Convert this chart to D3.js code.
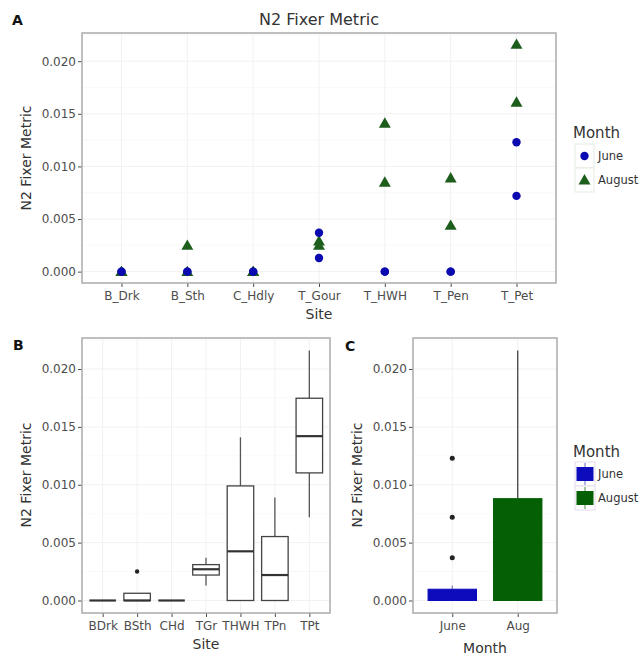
<!DOCTYPE html>
<html>
<head>
<meta charset="utf-8">
<script src="https://cdn.jsdelivr.net/npm/d3@7"></script>
<style>
  html, body { margin: 0; padding: 0; background: #fff; }
  svg { display: block; font-family: "DejaVu Sans", "Liberation Sans", sans-serif; }
</style>
</head>
<body>
<svg id="chart" width="643" height="655"></svg>
<script>
// ---------------- DATA ----------------
const sitesA = ["B_Drk", "B_Sth", "C_Hdly", "T_Gour", "T_HWH", "T_Pen", "T_Pet"];
const sitesB = ["BDrk", "BSth", "CHd", "TGr", "THWH", "TPn", "TPt"];
const months = ["June", "August"];
const monthsC = ["June", "Aug"];
// two replicate values per site for each month
const juneValues = [[0, 0], [0, 0], [0, 0], [0.0037, 0.0013], [0, 0], [0, 0], [0.0123, 0.0072]];
const augustValues = [[0, 0], [0, 0.0025], [0, 0], [0.0025, 0.0029], [0.0085, 0.0141], [0.0044, 0.0089], [0.0161, 0.0216]];
const yTicks = [0, 0.005, 0.010, 0.015, 0.020];

// ---------------- STYLE ----------------
const colJune = "#0a0ab0";
const colAug = "#1d5e1d";
const fillJune = "#0c0cbc";
const fillAug = "#056005";
const tickCol = "#4d4d4d";
const borderCol = "#ababab";
const gridCol = "#f1f1f1";

const svg = d3.select("#chart");

const allVals = juneValues.flat().concat(augustValues.flat());
const ext = d3.extent(allVals);
const pad = (ext[1] - ext[0]) * 0.05;
const yDomain = [ext[0] - pad, ext[1] + pad];

function boxStats(vals) {
  const s = vals.slice().sort(d3.ascending);
  const q1 = d3.quantile(s, 0.25), med = d3.quantile(s, 0.5), q3 = d3.quantile(s, 0.75);
  const iqr = q3 - q1;
  const lo = q1 - 1.5 * iqr, hi = q3 + 1.5 * iqr;
  const inside = s.filter(v => v >= lo && v <= hi);
  return { q1, med, q3, wlo: d3.min(inside), whi: d3.max(inside), out: s.filter(v => v < lo || v > hi) };
}

function panel(x0, x1, y0, y1, cats) {
  const x = d3.scalePoint().domain(cats).range([x0, x1]).padding(0.6);
  const y = d3.scaleLinear().domain(yDomain).range([y1, y0]);
  const g = svg.append("g");
  // grid
  const minor = yTicks.map(t => t + 0.0025).filter(v => v <= yDomain[1]);
  g.selectAll(".gmin").data(minor).enter().append("line")
    .attr("x1", x0).attr("x2", x1).attr("y1", d => y(d)).attr("y2", d => y(d))
    .attr("stroke", "#f7f7f7").attr("stroke-width", 0.8);
  g.selectAll(".gmaj").data(yTicks).enter().append("line")
    .attr("x1", x0).attr("x2", x1).attr("y1", d => y(d)).attr("y2", d => y(d))
    .attr("stroke", gridCol).attr("stroke-width", 1);
  g.selectAll(".gv").data(cats).enter().append("line")
    .attr("x1", d => x(d)).attr("x2", d => x(d)).attr("y1", y0).attr("y2", y1)
    .attr("stroke", gridCol).attr("stroke-width", 1);
  // y axis
  const ya = g.append("g").attr("transform", `translate(${x0},0)`)
    .call(d3.axisLeft(y).tickValues(yTicks).tickFormat(d3.format(".3f")).tickSize(4).tickPadding(2));
  ya.select(".domain").remove();
  ya.selectAll("line").attr("stroke", tickCol);
  ya.selectAll("text").attr("fill", tickCol).style("font-size", "12px").style("font-family", "DejaVu Sans");
  // x axis
  const xa = g.append("g").attr("transform", `translate(0,${y1})`)
    .call(d3.axisBottom(x).tickSize(4).tickPadding(4));
  xa.select(".domain").remove();
  xa.selectAll("line").attr("stroke", tickCol);
  xa.selectAll("text").attr("fill", tickCol).style("font-size", "12px").style("font-family", "DejaVu Sans");
  const content = svg.append("g");
  return { x, y, g, content, border: () => svg.append("rect").attr("x", x0).attr("y", y0)
    .attr("width", x1 - x0).attr("height", y1 - y0).attr("fill", "none")
    .attr("stroke", borderCol).attr("stroke-width", 1.5) };
}

function text(x, y, s, opts = {}) {
  const t = svg.append("text").attr("x", x).attr("y", y).text(s)
    .attr("fill", opts.fill || "#333")
    .style("font-size", (opts.size || 13) + "px")
    .attr("text-anchor", opts.anchor || "middle");
  if (opts.weight) t.style("font-weight", opts.weight);
  if (opts.rotate) t.attr("transform", `rotate(-90,${x},${y})`);
  if (opts.baseline) t.attr("dominant-baseline", opts.baseline);
  return t;
}

// ---------------- PANEL A ----------------
const A = panel(82, 556, 33, 283, sitesA);
const triangle = d3.symbol().type(d3.symbolTriangle).size(62);
const ptsAug = [], ptsJune = [];
sitesA.forEach((s, i) => {
  augustValues[i].forEach(v => ptsAug.push({ s, v }));
  juneValues[i].forEach(v => ptsJune.push({ s, v }));
});
A.content.selectAll(".tri").data(ptsAug).enter().append("path")
  .attr("d", triangle)
  .attr("transform", d => `translate(${A.x(d.s)},${A.y(d.v) + 1})`)
  .attr("fill", colAug);
A.content.selectAll(".cir").data(ptsJune).enter().append("circle")
  .attr("cx", d => A.x(d.s)).attr("cy", d => A.y(d.v)).attr("r", 4.2)
  .attr("fill", colJune);
A.border();
text(319, 25, "N2 Fixer Metric", { size: 16, fill: "#333" });
text(12, 25, "A", { size: 14, weight: "bold", anchor: "start", fill: "#111" });
text(319, 319, "Site", { size: 14 });
text(31, 158, "N2 Fixer Metric", { size: 14, rotate: true });

// legend A
text(573, 138, "Month", { size: 15, anchor: "start" });
months.forEach((m, i) => {
  const cy = 156 + i * 24;
  svg.append("rect").attr("x", 575).attr("y", cy - 12).attr("width", 19).attr("height", 24)
    .attr("fill", "#fff").attr("stroke", "#e3ebe0").attr("stroke-width", 1);
  if (i === 0) {
    svg.append("circle").attr("cx", 584.5).attr("cy", cy).attr("r", 4.2).attr("fill", colJune);
  } else {
    svg.append("path").attr("d", triangle).attr("transform", `translate(584.5,${cy + 1})`).attr("fill", colAug);
  }
  text(598, cy, m, { size: 11.5, anchor: "start", baseline: "central", fill: "#333" });
});

// ---------------- PANEL B ----------------
const B = panel(82, 330, 338, 613, sitesB);
const bwB = B.x.step() * 0.77;
const statsB = sitesB.map((s, i) => ({ s, ...boxStats(juneValues[i].concat(augustValues[i])) }));
statsB.forEach(d => {
  const cx = B.x(d.s);
  const g = B.content.append("g");
  g.append("line").attr("x1", cx).attr("x2", cx).attr("y1", B.y(d.q3)).attr("y2", B.y(d.whi))
    .attr("stroke", "#555").attr("stroke-width", 1.3);
  g.append("line").attr("x1", cx).attr("x2", cx).attr("y1", B.y(d.q1)).attr("y2", B.y(d.wlo))
    .attr("stroke", "#555").attr("stroke-width", 1.3);
  g.append("rect").attr("x", cx - bwB / 2).attr("width", bwB)
    .attr("y", B.y(d.q3)).attr("height", Math.max(0, B.y(d.q1) - B.y(d.q3)))
    .attr("fill", "#fff").attr("stroke", "#444").attr("stroke-width", 1.3);
  g.append("line").attr("x1", cx - bwB / 2).attr("x2", cx + bwB / 2)
    .attr("y1", B.y(d.med)).attr("y2", B.y(d.med)).attr("stroke", "#333").attr("stroke-width", 2.2);
  g.selectAll("circle").data(d.out).enter().append("circle")
    .attr("cx", cx).attr("cy", v => B.y(v)).attr("r", 2.2).attr("fill", "#222");
});
B.border();
text(13, 350, "B", { size: 14, weight: "bold", anchor: "start", fill: "#111" });
text(206, 649, "Site", { size: 14 });
text(31, 475, "N2 Fixer Metric", { size: 14, rotate: true });

// ---------------- PANEL C ----------------
const C = panel(413, 557, 338, 613, monthsC);
const bwC = C.x.step() * 0.74;
const statsC = [
  { m: "June", fill: fillJune, med: "#0a0a90", whisk: "#8888bb", ...boxStats(juneValues.flat()) },
  { m: "Aug", fill: fillAug, med: "#0a2e0a", whisk: "#444", ...boxStats(augustValues.flat()) }
];
statsC.forEach(d => {
  const cx = C.x(d.m);
  const g = C.content.append("g");
  g.append("line").attr("x1", cx).attr("x2", cx).attr("y1", C.y(d.q3)).attr("y2", C.y(d.whi))
    .attr("stroke", d.whisk).attr("stroke-width", 1.3);
  g.append("line").attr("x1", cx).attr("x2", cx).attr("y1", C.y(d.q1)).attr("y2", C.y(d.wlo))
    .attr("stroke", d.whisk).attr("stroke-width", 1.3);
  g.append("rect").attr("x", cx - bwC / 2).attr("width", bwC)
    .attr("y", C.y(d.q3)).attr("height", Math.max(0, C.y(d.q1) - C.y(d.q3)))
    .attr("fill", d.fill).attr("stroke", d.fill).attr("stroke-width", 1);
  g.append("line").attr("x1", cx - bwC / 2).attr("x2", cx + bwC / 2)
    .attr("y1", C.y(d.med)).attr("y2", C.y(d.med)).attr("stroke", d.med).attr("stroke-width", 1.6);
  g.selectAll("circle").data(d.out).enter().append("circle")
    .attr("cx", cx).attr("cy", v => C.y(v)).attr("r", 2.5).attr("fill", "#222");
});
C.border();
text(345, 351, "C", { size: 14, weight: "bold", anchor: "start", fill: "#111" });
text(485, 653, "Month", { size: 14 });
text(362, 475, "N2 Fixer Metric", { size: 14, rotate: true });

// legend C
text(573, 457, "Month", { size: 15, anchor: "start" });
months.forEach((m, i) => {
  const cy = 474 + i * 24;
  const f = i === 0 ? fillJune : fillAug;
  svg.append("rect").attr("x", 575).attr("y", cy - 12).attr("width", 20).attr("height", 24)
    .attr("fill", "#fff").attr("stroke", "#e6dcec").attr("stroke-width", 1);
  svg.append("line").attr("x1", 585).attr("x2", 585).attr("y1", cy - 11).attr("y2", cy + 11)
    .attr("stroke", i === 0 ? "#6666cc" : "#4a8a4a").attr("stroke-width", 1);
  svg.append("rect").attr("x", 577).attr("y", cy - 6.5).attr("width", 16).attr("height", 13)
    .attr("fill", f).attr("stroke", f);
  text(598, cy, m, { size: 11.5, anchor: "start", baseline: "central", fill: "#333" });
});
</script>
</body>
</html>
